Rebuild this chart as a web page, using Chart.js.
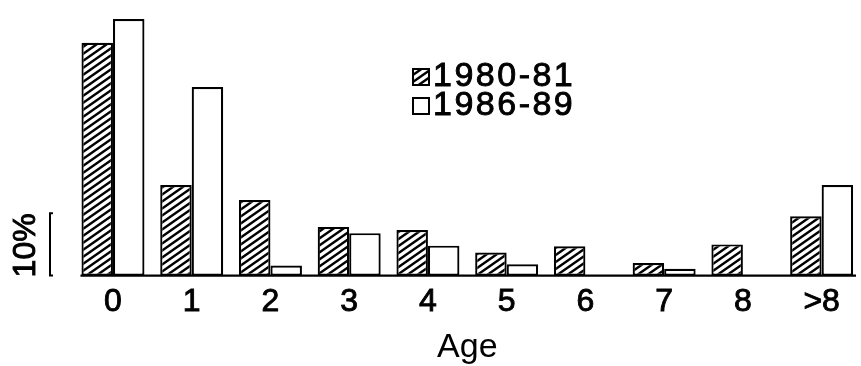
<!DOCTYPE html>
<html><head><meta charset="utf-8">
<script src="https://cdn.jsdelivr.net/npm/chart.js@4/dist/chart.umd.min.js"></script>
<style>html,body{margin:0;padding:0;background:#fff;overflow:hidden}</style>
</head><body>
<canvas id="c" width="861" height="366"></canvas>
<script>
const categories = ['0','1','2','3','4','5','6','7','8','>8'];
const series1980 = [37.3, 14.5, 12.1, 7.8, 7.3, 3.7, 4.7, 2.0, 5.0, 9.5];
const series1986 = [41.1, 30.2, 1.6, 6.8, 4.8, 1.8, 0, 1.1, 0, 14.5];
const seriesLabels = ['1980-81', '1986-89'];
const axisTitle = 'Age';
const scaleBarValue = 10;
const scaleBarLabel = '10%';

const FONT = '"Liberation Sans", Arial, Helvetica, sans-serif';

function makeHatch() {
  const w = 10, h = 7;
  const c = document.createElement('canvas');
  c.width = w; c.height = h;
  const g = c.getContext('2d');
  g.fillStyle = '#fff'; g.fillRect(0, 0, w, h);
  g.strokeStyle = '#000'; g.lineWidth = 2.4;
  g.beginPath();
  for (const n of [-1, 0, 1]) { g.moveTo(-2, h + n * h + 2 * h / w); g.lineTo(w + 2, n * h - 2 * h / w); }
  g.stroke();
  return g.createPattern(c, 'repeat');
}
const hatch = makeHatch();

function strokeFill(ctx, t, x, y) {
  ctx.lineWidth = 0.9; ctx.strokeStyle = '#000';
  ctx.strokeText(t, x, y);
  ctx.fillText(t, x, y);
}

const extras = {
  id: 'extras',
  afterDatasetsDraw(chart) {
    const ctx = chart.ctx;
    const y = chart.scales.y;
    const a = chart.chartArea;
    const m0 = chart.getDatasetMeta(0).data[0];
    const y0 = y.getPixelForValue(0);
    ctx.save();
    // baseline
    ctx.strokeStyle = '#000'; ctx.lineWidth = 2.4;
    ctx.beginPath();
    ctx.moveTo(m0.x - m0.width / 2 - 1, y0);
    ctx.lineTo(a.right - 5, y0);
    ctx.stroke();
    // scale bar
    const yt = y.getPixelForValue(scaleBarValue);
    ctx.lineWidth = 2;
    ctx.beginPath();
    ctx.moveTo(53, yt); ctx.lineTo(50, yt); ctx.lineTo(50, y0); ctx.lineTo(53, y0);
    ctx.stroke();
    ctx.fillStyle = '#000';
    ctx.font = '32px ' + FONT;
    ctx.textAlign = 'center'; ctx.textBaseline = 'middle';
    ctx.translate(26, (yt + y0) / 2 + 1);
    ctx.rotate(-Math.PI / 2);
    strokeFill(ctx, scaleBarLabel, 0, 0);
    ctx.restore();

    // legend
    ctx.save();
    ctx.font = '34px ' + FONT;
    ctx.letterSpacing = '2.5px';
    ctx.textAlign = 'left'; ctx.textBaseline = 'middle';
    const rows = [77, 106];
    const fills = [hatch, '#fff'];
    rows.forEach((cy, i) => {
      ctx.fillStyle = fills[i];
      ctx.fillRect(413, cy - 8, 16, 16);
      ctx.strokeStyle = '#000'; ctx.lineWidth = 2;
      ctx.strokeRect(413, cy - 8, 16, 16);
      ctx.fillStyle = '#000';
      strokeFill(ctx, seriesLabels[i], 433, cy);
    });
    ctx.restore();
  }
};

new Chart(document.getElementById('c'), {
  type: 'bar',
  data: {
    labels: categories,
    datasets: [
      { label: seriesLabels[0], data: series1980, backgroundColor: hatch, borderColor: '#000', borderWidth: 2.2, borderSkipped: false },
      { label: seriesLabels[1], data: series1986, backgroundColor: '#fff', borderColor: '#000', borderWidth: 2.2, borderSkipped: false }
    ]
  },
  options: {
    responsive: false,
    animation: false,
    layout: { padding: { left: 73.6, right: 0, top: 4, bottom: 0 } },
    plugins: { legend: { display: false }, tooltip: { enabled: false } },
    datasets: { bar: { categoryPercentage: 0.8, barPercentage: 1.0 } },
    scales: {
      x: {
        grid: { display: false, drawTicks: false },
        border: { display: false },
        ticks: { color: '#000', font: { family: FONT, size: 32, lineHeight: 1.0 }, padding: 10.5, maxRotation: 0, autoSkip: false, textStrokeColor: '#000', textStrokeWidth: 0.9 },
        title: { display: true, text: axisTitle, color: '#000', font: { family: FONT, size: 34, lineHeight: 1.1 }, padding: { top: 0, bottom: 0 } }
      },
      y: { display: false, min: 0, max: 43.5 }
    }
  },
  plugins: [extras]
});
</script>
</body></html>
